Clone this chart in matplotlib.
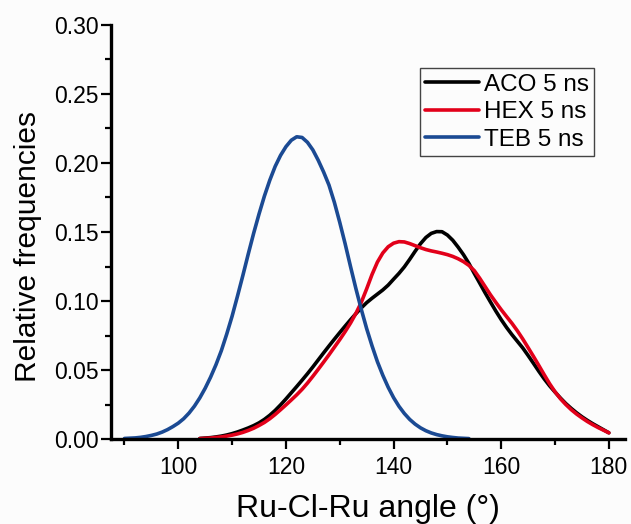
import matplotlib
matplotlib.use("Agg")
import matplotlib.pyplot as plt
from matplotlib.ticker import MultipleLocator, FormatStrFormatter

plt.rcParams['font.family'] = ['Liberation Sans', 'DejaVu Sans']

# Ru-Cl-Ru angle distributions (relative frequencies), 1 degree steps
ang_aco = list(range(104, 181))
aco = [0.0004, 0.0007, 0.0010, 0.0015, 0.0021, 0.0029, 0.0039, 0.0051, 0.0065, 0.0080,
       0.0097, 0.0117, 0.0142, 0.0172, 0.0207, 0.0247, 0.0290, 0.0335, 0.0380, 0.0426,
       0.0473, 0.0522, 0.0573, 0.0624, 0.0674, 0.0723, 0.0771, 0.0818, 0.0864, 0.0908,
       0.0950, 0.0988, 0.1020, 0.1050, 0.1080, 0.1115, 0.1158, 0.1200, 0.1247, 0.1302,
       0.1360, 0.1415, 0.1460, 0.1490, 0.1503, 0.1502, 0.1478, 0.1440, 0.1390, 0.1335,
       0.1272, 0.1200, 0.1130, 0.1060, 0.0993, 0.0927, 0.0865, 0.0808, 0.0756, 0.0708,
       0.0660, 0.0605, 0.0548, 0.0490, 0.0435, 0.0385, 0.0340, 0.0297, 0.0257, 0.0222,
       0.0190, 0.0161, 0.0135, 0.0111, 0.0089, 0.0067, 0.0045]

ang_hex = list(range(104, 181))
hex_ = [0.0003, 0.0005, 0.0007, 0.0011, 0.0015, 0.0021, 0.0028, 0.0037, 0.0048, 0.0062,
        0.0078, 0.0098, 0.0120, 0.0147, 0.0178, 0.0212, 0.0247, 0.0283, 0.0320, 0.0360,
        0.0405, 0.0454, 0.0505, 0.0557, 0.0610, 0.0665, 0.0720, 0.0778, 0.0840, 0.0910,
        0.0990, 0.1088, 0.1192, 0.1282, 0.1348, 0.1393, 0.1419, 0.1430, 0.1428, 0.1416,
        0.1401, 0.1386, 0.1373, 0.1363, 0.1355, 0.1346, 0.1336, 0.1323, 0.1306, 0.1285,
        0.1258, 0.1220, 0.1165, 0.1105, 0.1045, 0.0990, 0.0937, 0.0887, 0.0838, 0.0784,
        0.0725, 0.0662, 0.0598, 0.0532, 0.0465, 0.0400, 0.0342, 0.0292, 0.0250, 0.0213,
        0.0181, 0.0153, 0.0127, 0.0104, 0.0083, 0.0064, 0.0045]

ang_teb = list(range(90, 155))
teb = [0.0004, 0.0006, 0.0008, 0.0012, 0.0018, 0.0026, 0.0036, 0.0050, 0.0068, 0.0090,
       0.0115, 0.0147, 0.0188, 0.0238, 0.0298, 0.0368, 0.0448, 0.0538, 0.0640, 0.0760,
       0.0890, 0.1035, 0.1185, 0.1340, 0.1490, 0.1630, 0.1760, 0.1875, 0.1975, 0.2055,
       0.2118, 0.2165, 0.2190, 0.2185, 0.2150, 0.2095, 0.2020, 0.1935, 0.1840, 0.1715,
       0.1570, 0.1415, 0.1250, 0.1090, 0.0940, 0.0800, 0.0675, 0.0560, 0.0462, 0.0375,
       0.0300, 0.0237, 0.0185, 0.0142, 0.0108, 0.0081, 0.0060, 0.0044, 0.0032, 0.0023,
       0.0016, 0.0011, 0.0007, 0.0005, 0.0003]

labels = ['ACO 5 ns', 'HEX 5 ns', 'TEB 5 ns']
colors = ['#000000', '#e2001a', '#1b4a93']

bg = '#fcfcfc'
fig = plt.figure(figsize=(6.31, 5.24), dpi=100, facecolor=bg)
ax = fig.add_axes([0.1759, 0.1622, 0.8146, 0.7901], facecolor=bg)

for xs, ys, lab, c in zip([ang_aco, ang_hex, ang_teb], [aco, hex_, teb], labels, colors):
    ax.plot(xs, ys, color=c, lw=2.6, label=lab, solid_capstyle='round')

ax.set_xlim(87.5, 183)
ax.set_ylim(0, 0.30)
ax.xaxis.set_major_locator(MultipleLocator(20))
ax.xaxis.set_minor_locator(MultipleLocator(10))
ax.yaxis.set_major_locator(MultipleLocator(0.05))
ax.yaxis.set_minor_locator(MultipleLocator(0.025))
ax.yaxis.set_major_formatter(FormatStrFormatter('%.2f'))

for s in ['top', 'right']:
    ax.spines[s].set_visible(False)
for s in ['left', 'bottom']:
    ax.spines[s].set_linewidth(2.4)

ax.tick_params(which='major', direction='out', length=7, width=1.6, labelsize=16.5)
ax.tick_params(which='minor', direction='out', length=4, width=1.6)
ax.tick_params(axis='x', which='major', pad=5)
ax.tick_params(axis='y', which='major', pad=2)

ax.set_xlabel('Ru-Cl-Ru angle (°)', fontsize=23)
ax.xaxis.label.set_va('baseline')
ax.xaxis.set_label_coords(0.5, -0.188)
ax.set_ylabel('Relative frequencies', fontsize=21.5)
ax.yaxis.set_label_coords(-0.134, 0.466)

leg = ax.legend(loc='upper right', bbox_to_anchor=(0.940, 0.896), borderaxespad=0,
                fontsize=17.5, handlelength=2.2, handletextpad=0.2, labelspacing=0.23,
                borderpad=0.23, fancybox=False, framealpha=1, facecolor=bg,
                edgecolor='#444444')
leg.get_frame().set_linewidth(1.0)

fig.savefig('out.png', dpi=100, facecolor=bg)
